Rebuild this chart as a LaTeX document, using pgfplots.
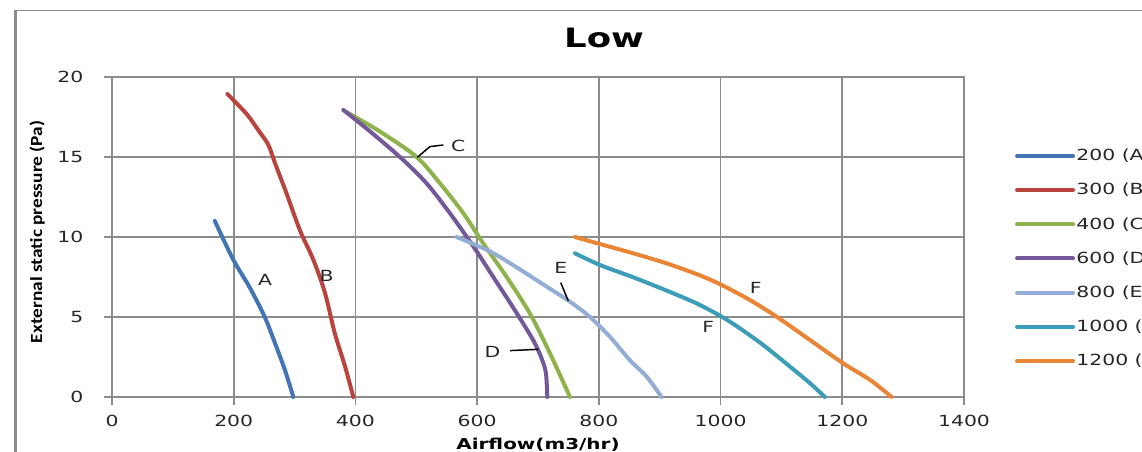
\documentclass[border=0pt]{standalone}
\usepackage{fontspec}
\usepackage{pgfplots}
\pgfplotsset{compat=1.18}
\setmainfont{DejaVu Sans}
\newfontfamily\verd[FakeStretch=1.33]{DejaVu Sans}
\newfontfamily\calib{Carlito}
\definecolor{cA}{HTML}{4375B4}
\definecolor{cB}{HTML}{B9443F}
\definecolor{cC}{HTML}{8FB24C}
\definecolor{cD}{HTML}{74599A}
\definecolor{cE}{HTML}{93ADD5}
\definecolor{cF}{HTML}{3C9DB8}
\definecolor{cG}{HTML}{E98535}
\definecolor{gridgray}{HTML}{8C8C8C}
\begin{document}
\begin{tikzpicture}
\useasboundingbox (0,0) rectangle (856.5pt,339pt);
\clip (0,0) rectangle (856.5pt,339pt);
\draw[gridgray, line width=2.25pt] (11.6pt,0) -- (11.6pt,331.1pt);
\draw[gridgray, line width=1.1pt] (10.5pt,331.1pt) -- (856.5pt,331.1pt);
\begin{axis}[
  at={(84pt,41.25pt)}, anchor=south west,
  scale only axis, width=639pt, height=240pt,
  xmin=0, xmax=1400, ymin=0, ymax=20,
  xtick={0,200,...,1400}, ytick={0,5,...,20},
  grid=major,
  grid style={gridgray, line width=1.2pt},
  axis line style={gridgray, line width=1.2pt},
  major tick style={gridgray, line width=1.2pt},
  tick align=outside, major tick length=6pt,
  xtick pos=bottom, ytick pos=left,
  /pgf/number format/assume math mode=true,
  /pgf/number format/1000 sep={},
  tick label style={font=\verd\fontsize{11.5}{12}\selectfont, text=black!85},
  xticklabel style={yshift=-4pt},
  yticklabel style={xshift=-12pt},
  title={\verd\bfseries\fontsize{20}{24}\selectfont Low},
  title style={at={(0.5775,1.097)}, anchor=center},
  xlabel={\verd\bfseries\fontsize{11.25}{13}\selectfont Airflow(m3/hr)},
  xlabel style={at={(0.5,-0.150)}, anchor=center},
  ylabel={\scalebox{1}[0.88]{\calib\bfseries\fontsize{14.5}{16}\selectfont External static pressure (Pa)}},
  ylabel style={at={(-0.088,0.516)}, anchor=center, rotate=0},
  legend style={at={(1.0599,0.433)}, anchor=west, draw=none, fill=none,
    inner sep=0pt, outer sep=0pt, row sep=13.4pt,
    font=\verd\fontsize{11.5}{12}\selectfont, text=black!85,
    nodes={inner sep=1pt}},
  legend cell align=left,
  legend image code/.code={\draw[#1, line width=3pt, line cap=round] (0pt,0pt) -- (42pt,0pt);},
  clip=false,
]
\addplot[cA, smooth, line width=3pt, line join=round, line cap=round] coordinates {(169,11) (199,8.6) (227,6.8) (251,5) (268,3.35) (284,1.7) (298,0)};
\addplot[cB, smooth, line width=3pt, line join=round, line cap=round] coordinates {(189.5,18.94) (221,17.7) (240,16.7) (257,15.75) (268,14.6) (287,12.7) (309,10.4) (331,8.56) (350,6.5) (366,4.0) (383,1.9) (396.5,0)};
\addplot[cC, smooth, line width=3pt, line join=round, line cap=round] coordinates {(385.6,17.8) (440,16.6) (500.6,15.0) (539,13.35) (577,11.5) (610,9.6) (648.5,7.5) (687,5.2) (720,2.7) (752.5,0)};
\addplot[cD, smooth, line width=3pt, line join=round, line cap=round] coordinates {(380,17.94) (424,16.6) (476,14.9) (517,13.35) (555,11.5) (594,9.4) (626.5,7.5) (659,5.6) (692,3.56) (706,2.4) (713,1.5) (715.3,0)};
\addplot[cE, smooth, line width=3pt, line join=round, line cap=round] coordinates {(566.3,10.0) (621,9.1) (665,8.1) (714,6.9) (752.5,5.96) (785.4,5.0) (818,3.77) (851,2.3) (878.6,1.27) (903,0)};
\addplot[cF, smooth, line width=3pt, line join=round, line cap=round] coordinates {(760.8,8.98) (801.8,8.25) (856.6,7.48) (911.4,6.65) (960.7,5.85) (1001.8,5.02) (1031.8,4.29) (1070,3.25) (1114,1.9) (1147,0.86) (1171.5,0)};
\addplot[cG, smooth, line width=3pt, line join=round, line cap=round] coordinates {(760.8,10.0) (801.8,9.56) (856.6,8.98) (911.4,8.35) (966.2,7.6) (1001.8,7.0) (1048.3,6.06) (1092,5.02) (1147,3.56) (1201.6,2.1) (1246,1.06) (1281,0)};
\legend{200 (A),300 (B),400 (C),600 (D),800 (E),1000 (F),1200 (F)}
\begin{scope}[every node/.style={font=\verd\fontsize{11.5}{12}\selectfont, text=black!85}]
\node at (axis cs:251.4,7.3) {A};
\node at (axis cs:352.7,7.55) {B};
\node at (axis cs:569,15.69) {C};
\node at (axis cs:625,2.83) {D};
\node at (axis cs:737.3,8.04) {E};
\node at (axis cs:979.8,4.4) {F};
\node at (axis cs:1057.6,6.79) {F};
\end{scope}
\draw[black, line width=1.1pt] (axis cs:501.7,14.98) -- (axis cs:522.5,15.65) -- (axis cs:544.4,15.75);
\draw[black, line width=1.1pt] (axis cs:654,2.9) -- (axis cs:700.5,2.98);
\draw[black, line width=1.1pt] (axis cs:737.3,7.15) -- (axis cs:749.8,6.0);
\end{axis}
\end{tikzpicture}
\end{document}
